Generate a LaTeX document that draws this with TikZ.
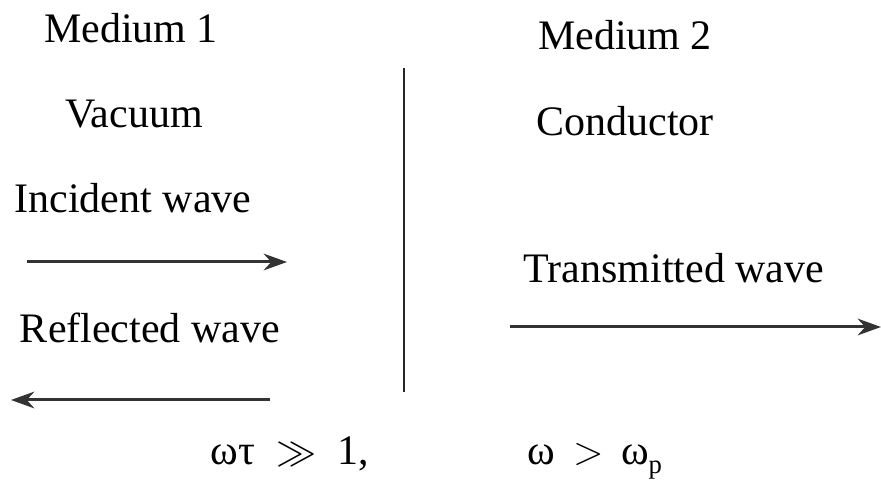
\documentclass[tikz,border=0pt]{standalone}
\usepackage{fontspec}
\setmainfont{Liberation Serif}
\usetikzlibrary{arrows.meta,positioning}
\tikzstyle{lbl}=[anchor=base,inner sep=0pt,font=\fontsize{12.6}{15}\selectfont]
\tikzstyle{arr}=[-{Stealth[length=7pt,width=5pt]},line width=0.9pt,draw=black!80]

\begin{document}
\begin{tikzpicture}[x=0.3pt,y=-0.3pt]
\useasboundingbox (0,0) rectangle (881,492);
\node (m1) [lbl] at (131,43) {Medium 1};
\node (vac) [lbl] at (134,128) {Vacuum};
\node (m2) [lbl] at (625,50) {Medium 2};
\node (cond) [lbl] at (625,135) {Conductor};
\node (inc) [lbl] at (133,213) {Incident wave};
\node (refl) [lbl] at (150,343) {Reflected wave};
\node (trans) [lbl] at (674,283) {Transmitted wave};
\node (c1) [lbl] at (290,465) {ωτ\ \ $\gg$\ \ 1,};
\node (c2) [lbl] at (595,465) {ω\ \,$>$\ \,ω\raisebox{-0.45ex}{\footnotesize p}};
% interface
\coordinate (top) at (404,68);
\coordinate (bot) at (404,392);
\draw [line width=0.75pt,black!85] (top) -- (bot);
% waves
\coordinate (inc1) at (27,262);
\coordinate (inc2) at (287,262);
\coordinate (ref1) at (270,400);
\coordinate (ref2) at (11,400);
\coordinate (tr1) at (510,327);
\coordinate (tr2) at (881,327);
\draw [arr] (inc1) -- (inc2);
\draw [arr] (ref1) -- (ref2);
\draw [arr] (tr1) -- (tr2);
\end{tikzpicture}
\end{document}
